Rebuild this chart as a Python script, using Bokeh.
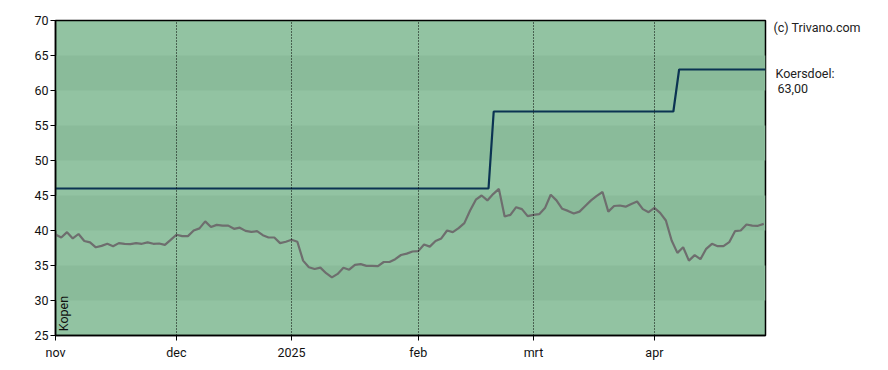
import math
from bokeh.plotting import figure
from bokeh.layouts import row
from bokeh.models import Range1d, FixedTicker, Label, BoxAnnotation, ColumnDataSource
from bokeh.core.properties import value
from bokeh.embed import file_html
from bokeh.resources import INLINE

# ---- data (trading-day index) ----
price = [39.43, 39.0, 39.76, 38.86, 39.5, 38.5, 38.3, 37.6, 37.8, 38.1,
         37.76, 38.2, 38.1, 38.05, 38.2, 38.1, 38.3, 38.1, 38.14, 37.95,
         38.67, 39.4, 39.2, 39.2, 40.0, 40.3, 41.3, 40.5, 40.8, 40.7,
         40.7, 40.24, 40.4, 39.95, 39.8, 39.9, 39.33, 39.0, 39.0, 38.2,
         38.4, 38.67, 38.4, 35.7, 34.76, 34.5, 34.7, 33.9, 33.3, 33.8,
         34.67, 34.4, 35.1, 35.2, 34.95, 34.95, 34.9, 35.5, 35.5, 35.9,
         36.5, 36.7, 37.0, 37.05, 38.0, 37.7, 38.5, 38.86, 40.0, 39.76,
         40.33, 41.05, 42.86, 44.4, 45.0, 44.3, 45.2, 45.95, 42.0, 42.24,
         43.33, 43.05, 42.05, 42.24, 42.33, 43.2, 45.1, 44.3, 43.1, 42.8,
         42.43, 42.7, 43.5, 44.3, 44.95, 45.5, 42.7, 43.5, 43.57, 43.4,
         43.8, 44.14, 43.05, 42.62, 43.24, 42.52, 41.43, 38.57, 36.8, 37.6,
         35.7, 36.48, 35.9, 37.38, 38.1, 37.76, 37.76, 38.33, 39.9, 40.0,
         40.86, 40.7, 40.67, 40.95]
day_index = list(range(len(price)))

target_x = [0, 75.2, 76.1, 107.3, 108.3, 123.3]
target_y = [46, 46, 57, 57, 63, 63]

month_ticks = [0, 21, 41, 63, 83, 104]
month_labels = ["nov", "dec", "2025", "feb", "mrt", "apr"]
y_ticks = [25, 30, 35, 40, 45, 50, 55, 60, 65, 70]
dark_bands = [(30, 35), (40, 45), (50, 55), (60, 65)]

side_texts = ["(c) Trivano.com", "Koersdoel:", "63,00"]

FONT = "Roboto"
LIGHT = "#92c3a2"
DARK = "#8abb9a"
TXT = "#222222"

p = figure(width=767, height=362, output_backend="svg", toolbar_location=None,
           x_range=Range1d(0, 123.3), y_range=Range1d(25, 70),
           min_border_left=55, min_border_right=2, min_border_top=20,
           min_border_bottom=27)
p.background_fill_color = LIGHT
p.border_fill_color = "white"
p.outline_line_color = "black"
p.outline_line_width = 1.5
p.outline_line_alpha = 1

for lo, hi in dark_bands:
    p.add_layout(BoxAnnotation(bottom=lo, top=hi, fill_color=DARK, fill_alpha=1,
                               line_alpha=0, level="underlay"))

p.ygrid.grid_line_color = None
p.xgrid.ticker = FixedTicker(ticks=month_ticks[1:])
p.xgrid.grid_line_color = "black"
p.xgrid.grid_line_dash = "1 2"
p.xgrid.grid_line_width = 1
p.xgrid.level = "glyph"

p.xaxis.ticker = FixedTicker(ticks=month_ticks)
p.xaxis.major_label_overrides = {t: l for t, l in zip(month_ticks, month_labels)}
p.yaxis.ticker = FixedTicker(ticks=y_ticks)
for ax in (p.xaxis[0], p.yaxis[0]):
    ax.axis_line_color = "black"
    ax.axis_line_width = 1.5
    ax.major_tick_line_color = "black"
    ax.major_tick_out = 5
    ax.major_tick_in = 0
    ax.minor_tick_line_color = None
    ax.major_label_text_font = FONT
    ax.major_label_text_font_size = "12.5px"
    ax.major_label_text_color = "#111111"
p.xaxis.major_label_standoff = 4
p.yaxis.major_label_standoff = 2

src = ColumnDataSource(dict(x=day_index, y=price))
p.line("x", "y", source=src, line_color="#6e6e6e", line_width=2.2)
p.line(target_x, target_y, line_color="#0b3352", line_width=2.2)

p.add_layout(Label(x=1.4, y=25.6, text="Kopen", angle=math.pi / 2,
                   text_align="left", text_baseline="middle",
                   text_font=FONT, text_font_size="12.5px", text_color="#111111"))

# right-hand side panel for the texts outside the plot frame (pixel coordinates)
s = figure(width=113, height=362, output_backend="svg", toolbar_location=None,
           x_range=Range1d(0, 113), y_range=Range1d(362, 0),
           min_border=0, min_border_left=0, min_border_right=0,
           min_border_top=0, min_border_bottom=0)
s.axis.visible = False
s.grid.visible = False
s.outline_line_color = None
s.background_fill_color = "white"
s.border_fill_color = "white"
s.text(x=[6, 8, 10], y=[8.5, 61, 78], text=side_texts,
       text_font=value(FONT), text_font_size="12.5px", text_color=TXT,
       text_align="left", text_baseline="middle")

layout = row(p, s, spacing=0)
open("out.html", "w").write(file_html(layout, INLINE))
